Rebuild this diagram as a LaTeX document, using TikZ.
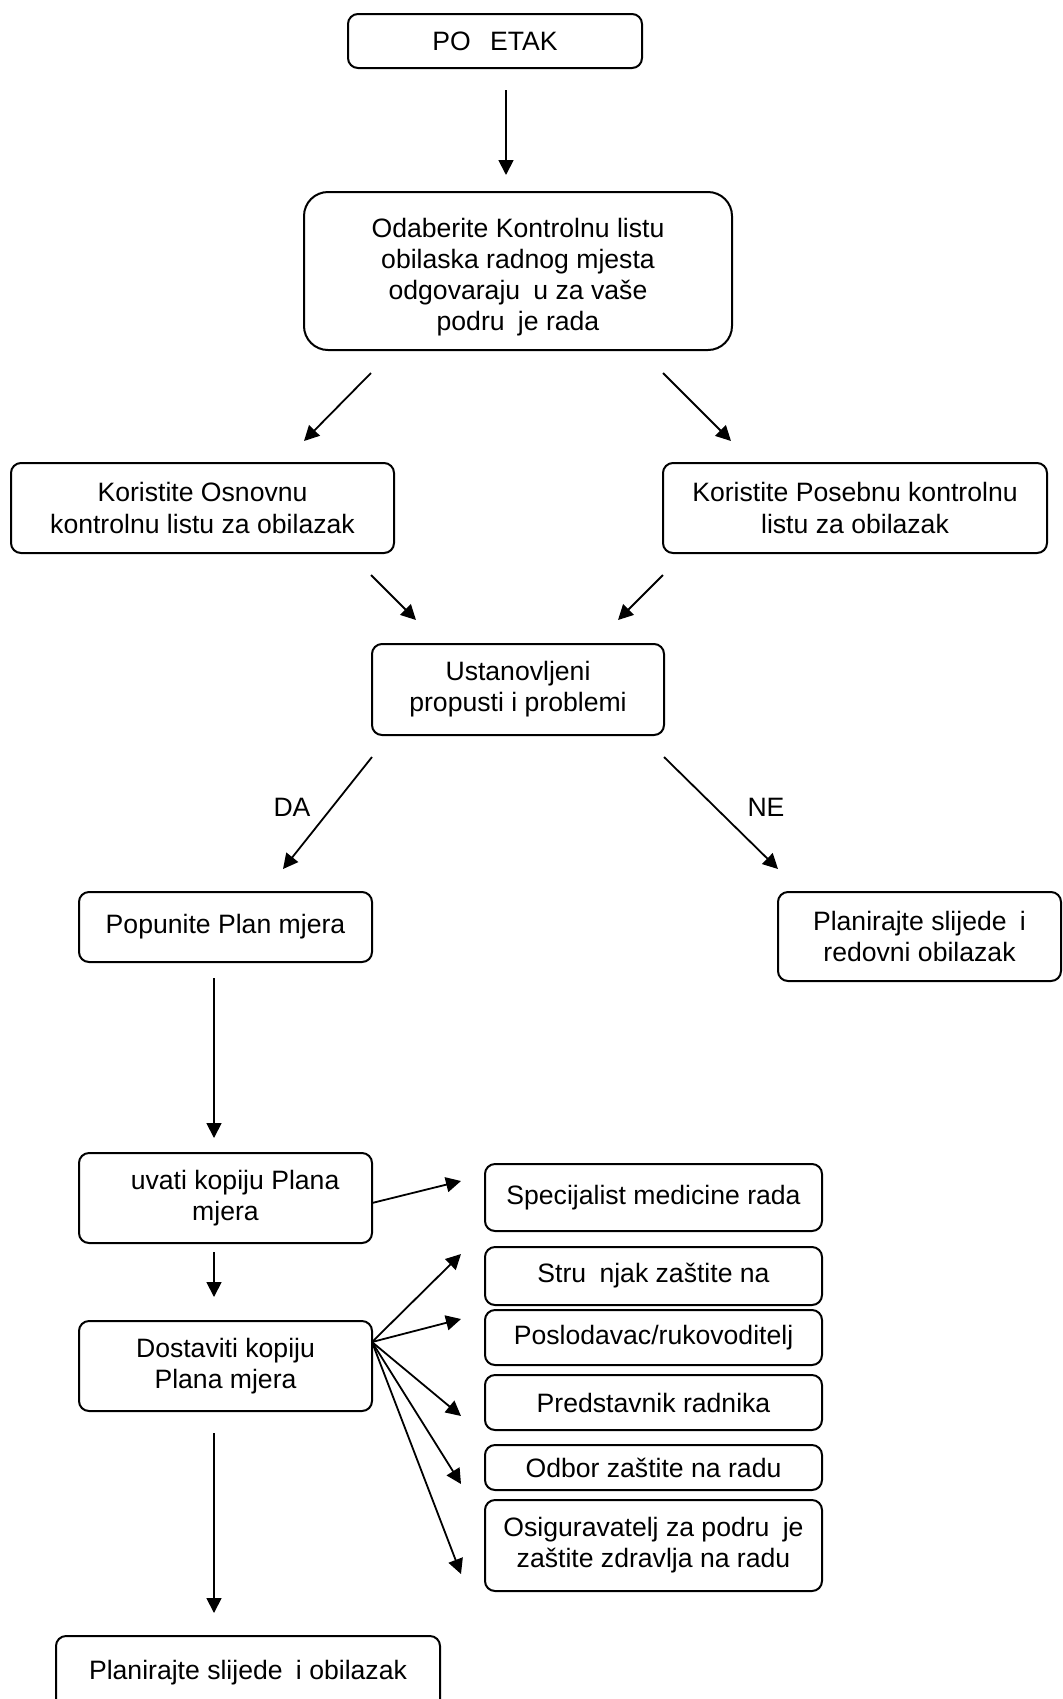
\documentclass[tikz,border=0pt]{standalone}
\usepackage{fontspec}
\setmainfont{Liberation Sans}
\usetikzlibrary{arrows.meta}
\begin{document}
\begin{tikzpicture}[x=0.5pt,y=-0.5pt,
  box/.style={draw, line width=1pt, rounded corners=5pt, inner sep=0pt, outer sep=0pt, align=center, font=\fontsize{13.3pt}{15.6pt}\selectfont},
  bigbox/.style={box, rounded corners=12pt},
  arr/.style={line width=0.9pt, -{Triangle[length=7.5pt,width=7.5pt]}},
  lbl/.style={inner sep=0pt, font=\fontsize{13.3pt}{15.6pt}\selectfont}]
\clip (0,0) rectangle (1063,1699);
\fill[white] (0,0) rectangle (1063,1699);
\newcommand\mybox[7][box]{\node[#1, minimum width={(#5-#3)*0.5pt}, minimum height={(#6-#4)*0.5pt}] (#2) at ({(#3+#5)/2},{(#4+#6)/2}) {#7};}
% boxes
\mybox{start}{348}{14}{642}{68}{PO\hphantom{Č}ETAK}
\mybox[bigbox]{odab}{304}{192}{732}{350}{\rule{0pt}{3pt}\\[-3pt]Odaberite Kontrolnu listu\\obilaska radnog mjesta\\odgovaraju\hphantom{ć}u za vaše\\podru\hphantom{č}je rada}
\mybox{osn}{11}{463}{394}{553}{Koristite Osnovnu\\kontrolnu listu za obilazak}
\mybox{pos}{663}{463}{1047}{553}{Koristite Posebnu kontrolnu\\listu za obilazak}
\mybox{ust}{372}{644}{664}{735}{Ustanovljeni\\propusti i problemi}
\mybox{pop}{79}{892}{372}{962}{Popunite Plan mjera}
\mybox{red}{778}{892}{1061}{981}{Planirajte slijede\hphantom{ć}i\\redovni obilazak}
\mybox{cuv}{79}{1153}{372}{1243}{\hphantom{Č}uvati kopiju Plana\\mjera}
\mybox{spec}{485}{1164}{822}{1231}{Specijalist medicine rada}
\mybox{dost}{79}{1321}{372}{1411}{Dostaviti kopiju\\Plana mjera}
\mybox{stru}{485}{1247}{822}{1305}{Stru\hphantom{č}njak zaštite na}
\mybox{posl}{485}{1310}{822}{1365}{Poslodavac/rukovoditelj}
\mybox{pred}{485}{1375}{822}{1430}{Predstavnik radnika}
\mybox{odb}{485}{1445}{822}{1490}{Odbor zaštite na radu}
\mybox{osig}{485}{1500}{822}{1591}{Osiguravatelj za podru\hphantom{č}je\\zaštite zdravlja na radu}
\mybox{kraj}{56}{1636}{440}{1710}{Planirajte slijede\hphantom{ć}i obilazak}
% labels
\node[lbl] (da) at (292,807) {DA};
\node[lbl] (ne) at (766,807) {NE};
% arrow end points
\coordinate (a1s) at (506,90);   \coordinate (a1e) at (506,175);
\coordinate (a2s) at (371,373);  \coordinate (a2e) at (304,441);
\coordinate (a3s) at (663,373);  \coordinate (a3e) at (731,441);
\coordinate (a4s) at (371,575);  \coordinate (a4e) at (416,620);
\coordinate (a5s) at (663,575);  \coordinate (a5e) at (618,620);
\coordinate (a6s) at (372,757);  \coordinate (a6e) at (283,869);
\coordinate (a7s) at (664,757);  \coordinate (a7e) at (778,869);
\coordinate (a8s) at (214,978);  \coordinate (a8e) at (214,1138);
\coordinate (a9s) at (372,1203); \coordinate (a9e) at (461,1181);
\coordinate (a10s) at (214,1252); \coordinate (a10e) at (214,1297);
\coordinate (fan) at (372,1342);
\coordinate (f1) at (461,1254);
\coordinate (f2) at (461,1319);
\coordinate (f3) at (461,1416);
\coordinate (f4) at (461,1484);
\coordinate (f5) at (461,1574);
\coordinate (a11s) at (214,1433); \coordinate (a11e) at (214,1613);
% arrows
\draw[arr] (a1s) -- (a1e);
\draw[arr] (a2s) -- (a2e);
\draw[arr] (a3s) -- (a3e);
\draw[arr] (a4s) -- (a4e);
\draw[arr] (a5s) -- (a5e);
\draw[arr] (a6s) -- (a6e);
\draw[arr] (a7s) -- (a7e);
\draw[arr] (a8s) -- (a8e);
\draw[arr] (a9s) -- (a9e);
\draw[arr] (a10s) -- (a10e);
\draw[arr] (fan) -- (f1);
\draw[arr] (fan) -- (f2);
\draw[arr] (fan) -- (f3);
\draw[arr] (fan) -- (f4);
\draw[arr] (fan) -- (f5);
\draw[arr] (a11s) -- (a11e);
\end{tikzpicture}
\end{document}
